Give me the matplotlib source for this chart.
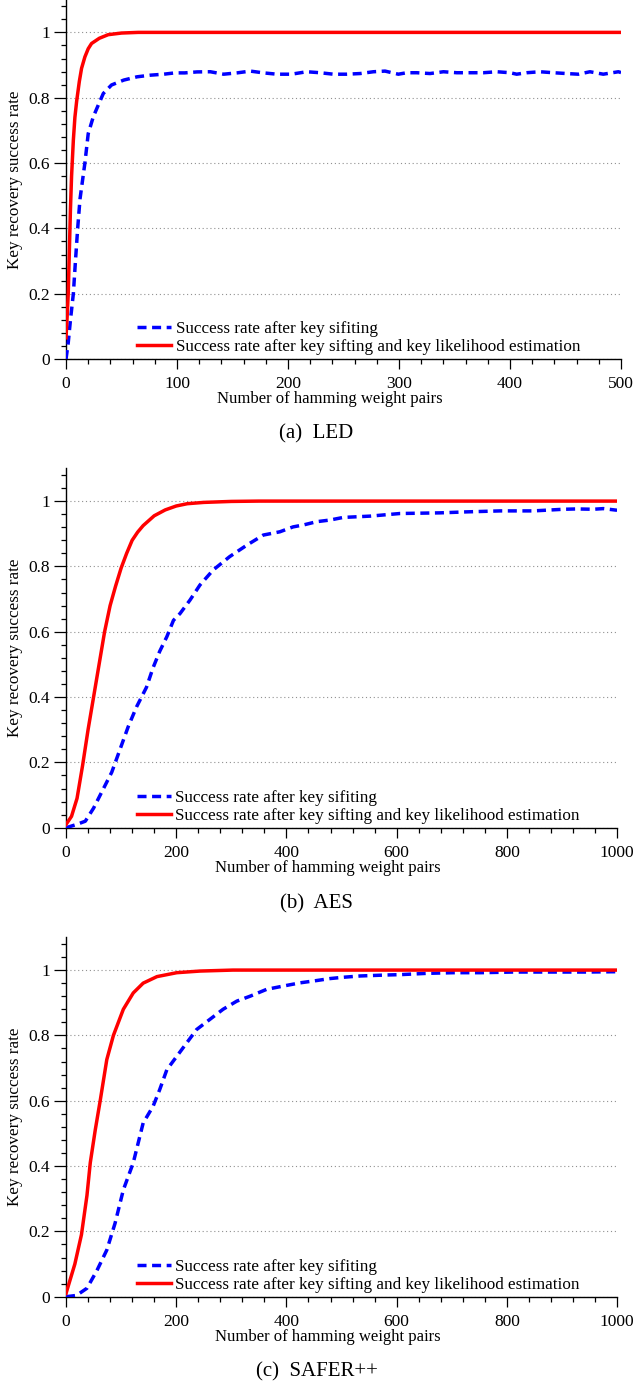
import numpy as np
import matplotlib
matplotlib.use("Agg")
import matplotlib.pyplot as plt
from matplotlib.ticker import AutoMinorLocator, FuncFormatter

plt.rcParams['font.family'] = 'serif'
plt.rcParams['font.serif'] = ['Liberation Serif', 'DejaVu Serif']

## LED
led_blue_x = [0, 2, 4, 6.6, 8.5, 10.5, 12.6, 15, 17, 20, 24.6, 29, 33.6, 41, 52, 64, 76, 88, 98, 107,
              118, 130, 142, 154, 166, 178, 190, 203, 216.8, 228.8, 240.8, 252.9, 264.9, 276.9, 287.4,
              299.4, 306.9, 315.9, 327.9, 340, 352, 364, 376, 388, 400, 406, 415, 427, 439, 451, 461.5,
              472, 484, 497.6, 500]
led_blue_y = [0.0, 0.05, 0.12, 0.2, 0.3, 0.4, 0.49, 0.55, 0.6, 0.69, 0.742, 0.777, 0.813, 0.839, 0.854,
              0.864, 0.869, 0.872, 0.876, 0.876, 0.879, 0.8795, 0.872, 0.876, 0.8815, 0.876, 0.872, 0.872,
              0.8795, 0.8765, 0.872, 0.872, 0.874, 0.8795, 0.8815, 0.872, 0.8765, 0.8765, 0.874, 0.8795,
              0.8765, 0.8765, 0.8765, 0.8795, 0.8765, 0.872, 0.8765, 0.8795, 0.8765, 0.874, 0.872, 0.8795,
              0.872, 0.8795, 0.877]
led_red_x = [0, 1, 2, 3, 4, 5, 6.6, 8, 9.6, 12, 14, 17, 20, 23, 30, 38, 50, 65, 80, 500]
led_red_y = [0.065, 0.13, 0.2, 0.33, 0.46, 0.56, 0.67, 0.74, 0.79, 0.85, 0.89, 0.925, 0.95, 0.966, 0.982,
             0.993, 0.998, 1.0, 1.0, 1.0]

## AES
aes_blue_x = [0, 19, 35, 50, 68, 83, 98, 113, 128, 134, 146, 158, 170, 183, 195, 207, 225, 243, 267, 297,
              328, 358, 388, 412, 431, 455, 479, 503, 552, 606, 679, 727, 788, 848, 903, 927, 957, 975, 1000]
aes_blue_y = [0.0, 0.01, 0.02, 0.06, 0.12, 0.17, 0.24, 0.31, 0.37, 0.39, 0.43, 0.49, 0.54, 0.585, 0.635,
              0.656, 0.697, 0.743, 0.789, 0.83, 0.865, 0.896, 0.906, 0.921, 0.927, 0.937, 0.942, 0.95,
              0.954, 0.962, 0.964, 0.967, 0.97, 0.97, 0.975, 0.976, 0.975, 0.977, 0.972]
aes_red_x = [0, 10, 20, 30, 40, 50, 60, 70, 80, 90, 100, 110, 120, 130, 140, 160, 180, 200, 220, 250, 300,
             350, 1000]
aes_red_y = [0.01, 0.035, 0.09, 0.19, 0.3, 0.4, 0.5, 0.6, 0.68, 0.74, 0.795, 0.84, 0.88, 0.905, 0.925,
             0.955, 0.973, 0.985, 0.992, 0.996, 0.999, 1.0, 1.0]

## SAFER++
saf_blue_x = [0, 19, 38, 56, 74, 89, 104, 122, 140, 158, 170, 183, 201, 219, 237, 261, 285, 310, 334, 364,
              394, 425, 455, 479, 503, 534, 582, 606, 655, 703, 752, 812, 885, 945, 1000]
saf_blue_y = [0.0, 0.004, 0.026, 0.08, 0.143, 0.225, 0.327, 0.41, 0.532, 0.583, 0.634, 0.695, 0.736, 0.777,
              0.818, 0.849, 0.88, 0.905, 0.92, 0.941, 0.951, 0.961, 0.968, 0.974, 0.978, 0.982, 0.985,
              0.986, 0.99, 0.992, 0.992, 0.994, 0.994, 0.994, 0.995]
saf_red_x = [0, 16, 28, 38, 44, 53, 62, 74, 86, 104, 122, 140, 165, 201, 243, 303, 1000]
saf_red_y = [0.01, 0.1, 0.19, 0.31, 0.41, 0.51, 0.6, 0.726, 0.8, 0.88, 0.93, 0.96, 0.98, 0.992, 0.997,
             1.0, 1.0]

label_blue = 'Success rate after key sifiting'
label_red = 'Success rate after key sifting and key likelihood estimation'
captions = ['(a)  LED', '(b)  AES', '(c)  SAFER++']

fig = plt.figure(figsize=(6.33, 13.9), dpi=100)

panels = [
    (led_blue_x, led_blue_y, led_red_x, led_red_y, 500, 100, [0.1043, 0.7417, 0.8768, 0.2585], 0.6878),
    (aes_blue_x, aes_blue_y, aes_red_x, aes_red_y, 1000, 200, [0.1043, 0.4045, 0.8705, 0.2585], 0.3496),
    (saf_blue_x, saf_blue_y, saf_red_x, saf_red_y, 1000, 200, [0.1043, 0.0671, 0.8705, 0.2585], 0.0129),
]

fmt = FuncFormatter(lambda v, p: ('%g' % round(v, 2)))

for i, (bx, by, rx, ry, xmax, xstep, pos, capy) in enumerate(panels):
    ax = fig.add_axes(pos)
    ax.plot(bx, by, color='#0000ff', lw=2.5, linestyle=(0, (2.6, 1.6)), label=label_blue, zorder=3)
    ax.plot(rx, ry, color='#ff0000', lw=2.5, label=label_red, zorder=4)
    ax.set_xlim(0, xmax)
    ax.set_ylim(0, 1.1)
    ax.set_xticks(np.arange(0, xmax + 1, xstep))
    ax.set_yticks([0, 0.2, 0.4, 0.6, 0.8, 1.0])
    ax.yaxis.set_major_formatter(fmt)
    ax.xaxis.set_minor_locator(AutoMinorLocator(5))
    ax.yaxis.set_minor_locator(AutoMinorLocator(5))
    ax.spines['top'].set_visible(False)
    ax.spines['right'].set_visible(False)
    ax.spines['left'].set_linewidth(1.0)
    ax.spines['bottom'].set_linewidth(1.0)
    ax.tick_params(axis='y', which='major', direction='out', length=8.6, width=0.9, pad=3, labelsize=12.5)
    ax.tick_params(axis='y', which='minor', direction='out', length=3.6, width=0.9)
    ax.tick_params(axis='x', which='major', direction='out', length=7.2, width=0.9, pad=5, labelsize=12.5)
    ax.tick_params(axis='x', which='minor', direction='out', length=3.6, width=0.9)
    ax.grid(axis='y', which='major', linestyle=(0, (1, 2.5)), color='#909090', lw=0.8)
    ax.set_xlabel('Number of hamming weight pairs', fontsize=12, va='center')
    ax.xaxis.set_label_coords(0.475, -0.112)
    ax.set_ylabel('Key recovery success rate', fontsize=12.3, va='center')
    ax.yaxis.set_label_coords(-0.092, 0.5)
    ax.legend(loc='lower left', bbox_to_anchor=(0.128, 0.01), frameon=False, fontsize=12.3,
              handlelength=2.0, handletextpad=0.25, labelspacing=0.12, borderpad=0, borderaxespad=0)
    fig.text(0.5, capy, captions[i], ha='center', va='center', fontsize=15)

plt.savefig('out.png', dpi=100)
